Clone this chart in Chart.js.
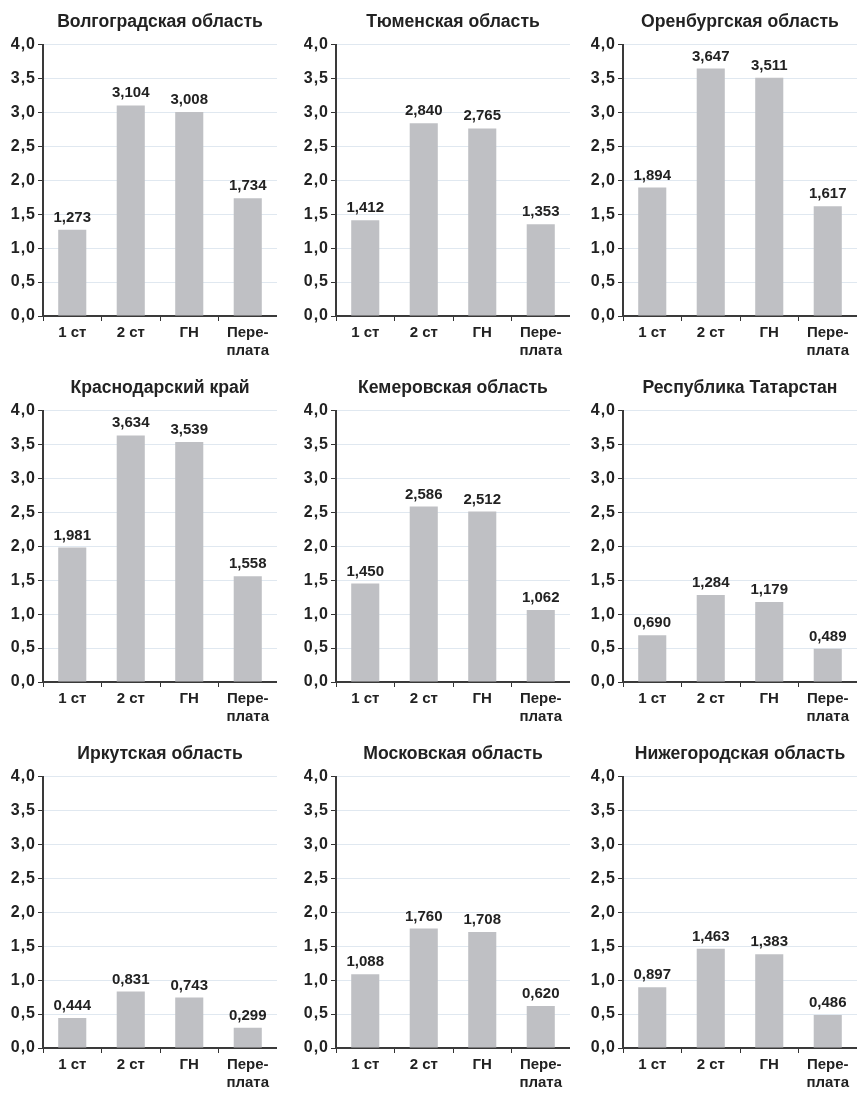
<!DOCTYPE html>
<html>
<head>
<meta charset="utf-8">
<script src="https://cdn.jsdelivr.net/npm/chart.js@4"></script>
<style>
  body { margin: 0; background: #fff; width: 859px; height: 1093px; overflow: hidden; position: relative; }
  canvas { position: absolute; }
</style>
</head>
<body>
<script>
// categories and tick labels shared by all panels
const categories = ['1 ст', '2 ст', 'ГН', ['Пере-', 'плата']];
const yTicks = [0, 0.5, 1, 1.5, 2, 2.5, 3, 3.5, 4];

// one title + values per region
const titles = [
  'Волгоградская область', 'Тюменская область', 'Оренбургская область',
  'Краснодарский край', 'Кемеровская область', 'Республика Татарстан',
  'Иркутская область', 'Московская область', 'Нижегородская область'
];
const volgograd = [1.273, 3.104, 3.008, 1.734];
const tyumen = [1.412, 2.840, 2.765, 1.353];
const orenburg = [1.894, 3.647, 3.511, 1.617];
const krasnodar = [1.981, 3.634, 3.539, 1.558];
const kemerovo = [1.450, 2.586, 2.512, 1.062];
const tatarstan = [0.690, 1.284, 1.179, 0.489];
const irkutsk = [0.444, 0.831, 0.743, 0.299];
const moscow = [1.088, 1.760, 1.708, 0.620];
const nizhny = [0.897, 1.463, 1.383, 0.486];
const series = [volgograd, tyumen, orenburg, krasnodar, kemerovo, tatarstan, irkutsk, moscow, nizhny];

const fmt = (v, d) => v.toFixed(d).replace('.', ',');
const FONT = '"Liberation Sans", Arial, sans-serif';

// value labels above bars
const valueLabels = {
  id: 'valueLabels',
  afterDatasetsDraw(chart) {
    const ctx = chart.ctx;
    const meta = chart.getDatasetMeta(0);
    ctx.save();
    ctx.font = 'bold 15px ' + FONT;
    ctx.fillStyle = '#222';
    ctx.textAlign = 'center';
    ctx.textBaseline = 'alphabetic';
    meta.data.forEach((bar, i) => {
      ctx.fillText(fmt(chart.data.datasets[0].data[i], 3), bar.x, bar.y - 8);
    });
    ctx.restore();
  }
};

// y tick labels look a bit spaced out in the original
const spacedTicks = {
  id: 'spacedTicks',
  beforeDraw(chart) {
    const y = chart.scales.y;
    if (y._spaced) return;
    const orig = y.drawLabels.bind(y);
    y.drawLabels = function (area) {
      chart.ctx.save();
      chart.ctx.letterSpacing = '1px';
      orig(area);
      chart.ctx.restore();
    };
    y._spaced = true;
  }
};

const colLeft = [0, 293, 580];
const rowTop = [0, 366, 732];

series.forEach((values, i) => {
  const c = document.createElement('canvas');
  c.width = 277;
  c.height = 361;
  c.style.left = colLeft[i % 3] + 'px';
  c.style.top = rowTop[Math.floor(i / 3)] + 'px';
  document.body.appendChild(c);

  new Chart(c.getContext('2d'), {
    type: 'bar',
    data: {
      labels: categories,
      datasets: [{
        data: values,
        backgroundColor: '#bfc0c4',
        categoryPercentage: 1,
        barPercentage: 0.48
      }]
    },
    options: {
      responsive: false,
      animation: false,
      events: [],
      layout: { padding: 0 },
      plugins: {
        legend: { display: false },
        tooltip: { enabled: false },
        title: {
          display: true,
          text: titles[i],
          fullSize: false,
          color: '#222',
          font: { family: FONT, size: 17.6, weight: 'bold' },
          padding: { top: 12, bottom: 11.5 }
        }
      },
      scales: {
        x: {
          grid: { drawOnChartArea: false, drawTicks: true, tickLength: 5, tickColor: '#333', offset: true },
          border: { color: '#3a3a3a', width: 2 },
          ticks: { color: '#222', padding: 3, maxRotation: 0, font: { family: FONT, size: 15, weight: 'bold' } },
          afterFit(s) { s.height = 45; }
        },
        y: {
          min: 0,
          max: 4,
          afterBuildTicks(s) { s.ticks = yTicks.map(v => ({ value: v })); },
          grid: { color: '#e0e8f0', lineWidth: 1, tickLength: 5, tickColor: '#333' },
          border: { color: '#3a3a3a', width: 2 },
          ticks: {
            color: '#222',
            padding: 2,
            font: { family: FONT, size: 16, weight: 'bold' },
            callback: v => fmt(v, 1)
          },
          afterFit(s) { s.width = 43; }
        }
      }
    },
    plugins: [valueLabels, spacedTicks]
  });
});
</script>
</body>
</html>
